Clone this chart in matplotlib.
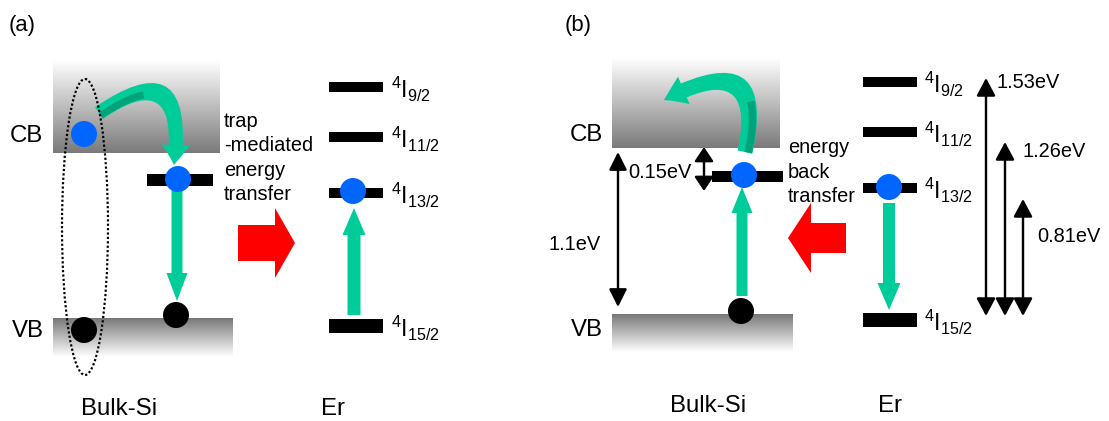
import numpy as np
import matplotlib
matplotlib.use("Agg")
import matplotlib.pyplot as plt
from matplotlib.patches import Rectangle, Circle, Ellipse, FancyArrow, FancyArrowPatch
from matplotlib.path import Path

# ---------------- data ----------------
panel_labels = ["(a)", "(b)"]
band_labels = ["CB", "VB"]
material_labels = ["Bulk-Si", "Er"]
er_level_j = ["9/2", "11/2", "13/2", "15/2"]          # 4I_J manifolds (top to bottom)
er_transition_eV = [1.53, 1.26, 0.81]                 # 4I_J -> 4I15/2
si_gap_eV = 1.1
trap_depth_eV = 0.15
process_a = ["trap", "-mediated", "energy", "transfer"]
process_b = ["energy", "back", "transfer"]

# ---------------- style / layout (pixels, 72 dpi) ----------------
W, H = 1109, 421
TEAL = "#00CC99"
TEAL_DARK = "#00A47A"
BLUE = "#0066FF"
FONT = "Liberation Sans"
plt.rcParams["font.family"] = [FONT, "DejaVu Sans"]
plt.rcParams["mathtext.fontset"] = "custom"
plt.rcParams["mathtext.rm"] = FONT
plt.rcParams["mathtext.it"] = FONT
plt.rcParams["mathtext.default"] = "regular"

fig = plt.figure(figsize=(W / 72, H / 72), dpi=72)
ax = fig.add_axes([0, 0, 1, 1])
ax.set_axis_off()


def grad_box(x0, x1, y0, y1, top, bottom):
    g = np.linspace(top, bottom, 200).reshape(-1, 1)
    ax.imshow(g, cmap="gray", vmin=0, vmax=1, extent=(x0, x1, y1, y0),
              origin="upper", aspect="auto", interpolation="bilinear", zorder=0)


def straight(x, y0, y1, color=TEAL, width=12, hw=23, hl=27):
    ax.add_patch(FancyArrow(x, y0, 0, y1 - y0, width=width, head_width=hw,
                            head_length=hl, length_includes_head=True,
                            color=color, lw=0, zorder=3))


def bez(A, C, B, t):
    A, C, B = map(np.asarray, (A, C, B))
    t = np.asarray(t)[:, None]
    return (1 - t) ** 2 * A + 2 * t * (1 - t) * C + t ** 2 * B


def curved(A, C, B, tw=14, hw=30, hl=20, shade=(0.0, 0.35), side=1):
    p = Path([A, C, B], [Path.MOVETO, Path.CURVE3, Path.CURVE3])
    ax.add_patch(FancyArrowPatch(path=p, arrowstyle=f"simple,head_length={hl},head_width={hw},tail_width={tw}",
                                 mutation_scale=1, color=TEAL, lw=0, zorder=3))
    # darker underside of the ribbon (3-D look)
    t = np.linspace(shade[0], shade[1], 40)
    pts = bez(A, C, B, t)
    d = np.gradient(pts, axis=0)
    n = np.stack([-d[:, 1], d[:, 0]], axis=1)
    n /= np.linalg.norm(n, axis=1)[:, None]
    off = pts + side * n * tw * 0.22
    ax.plot(off[:, 0], off[:, 1], color=TEAL_DARK, lw=tw * 0.5,
            solid_capstyle="butt", zorder=3.1)


def double(x, y0, y1, hl=14, hw=8):
    ax.add_patch(FancyArrowPatch((x, y0), (x, y1),
                                 arrowstyle=f"<|-|>,head_length={hl},head_width={hw}",
                                 mutation_scale=1, lw=2.4, color="black",
                                 shrinkA=0, shrinkB=0, zorder=3))


def electron(x, y, color):
    ax.add_patch(Circle((x, y), 13, color=color, lw=0, zorder=5))


def level_label(x, ylev, j):
    ax.text(x, ylev + 11, r"${}^{4}$I$_{%s}$" % j, fontsize=23, ha="left", va="baseline")


# ================= panel (a) =================
ax.text(9, 26, panel_labels[0], fontsize=22, va="center", ha="left")
grad_box(53, 220, 60, 153, 1.0, 0.48)
grad_box(53, 233, 318, 357, 0.47, 1.0)
ax.text(10, 142, band_labels[0], fontsize=24, va="baseline")
ax.text(12, 337, band_labels[1], fontsize=24, va="baseline")
ax.add_patch(Ellipse((85, 227), 46, 296, fill=False, ls=(0, (1, 1)), lw=2.2, zorder=4))
# trap level
ax.add_patch(Rectangle((147, 174), 66, 12, color="black", lw=0, zorder=2))
curved((99, 113), (188, 52), (174, 165), tw=14, hw=28, hl=20, shade=(0.0, 0.3), side=1)
straight(177, 190, 301, width=11, hw=21, hl=28)
electron(84, 134, BLUE)
electron(84, 330, "black")
electron(176, 315, "black")
electron(178, 179, BLUE)
for i, s in enumerate(process_a):
    ax.text(224, 127 + 24.3 * i, s, fontsize=20, va="baseline")
ax.add_patch(FancyArrow(238, 243, 57, 0, width=36, head_width=70, head_length=20,
                        length_includes_head=True, color="red", lw=0, zorder=3))
# Er levels
er_a_y = [87, 137, 193, 326]
er_a_h = [10, 10, 10, 14]
for j, y, h in zip(er_level_j, er_a_y, er_a_h):
    ax.add_patch(Rectangle((329, y - h / 2), 54, h, color="black", lw=0, zorder=2))
    level_label(391, y, j)
straight(354, 315, 208, width=13, hw=23, hl=27)
electron(353, 191, BLUE)
ax.text(119, 415, material_labels[0], fontsize=24, ha="center", va="baseline")
ax.text(333, 415, material_labels[1], fontsize=24, ha="center", va="baseline")

# ================= panel (b) =================
ax.text(565, 26, panel_labels[1], fontsize=22, va="center", ha="left")
grad_box(612, 780, 58, 148, 1.0, 0.48)
grad_box(612, 793, 314, 352, 0.47, 1.0)
ax.text(603, 141, band_labels[0], fontsize=24, va="baseline", ha="right")
ax.text(603, 336, band_labels[1], fontsize=24, va="baseline", ha="right")
ax.add_patch(Rectangle((712, 171), 71, 11, color="black", lw=0, zorder=2))
curved((745, 152), (768, 45), (664, 100), tw=15, hw=30, hl=22, shade=(0.0, 0.3), side=1)
straight(742, 296, 187, width=11, hw=21, hl=26)
electron(744, 175, BLUE)
electron(741, 311, "black")
double(618, 152, 307, hl=15, hw=7.5)
ax.text(548, 250, f"{si_gap_eV}eV", fontsize=20, va="baseline")
double(704, 147, 191, hl=12, hw=8)
ax.text(628, 178, f"{trap_depth_eV}eV", fontsize=20, va="baseline")
for i, s in enumerate(process_b):
    ax.text(788, 153 + 24.5 * i, s, fontsize=20, va="baseline")
ax.add_patch(FancyArrow(846, 238, -58, 0, width=30, head_width=70, head_length=23,
                        length_includes_head=True, color="red", lw=0, zorder=3))
er_b_y = [82, 132, 188, 320]
er_b_h = [10, 10, 10, 14]
for j, y, h in zip(er_level_j, er_b_y, er_b_h):
    ax.add_patch(Rectangle((863, y - h / 2), 54, h, color="black", lw=0, zorder=2))
    level_label(924, y, j)
straight(889, 203, 310, width=12, hw=23, hl=27)
electron(889, 187, BLUE)
# transition energies
trans_x = [986, 1005, 1023]
trans_top = [78, 142, 199]
trans_lab = [(996, 88), (1022, 157), (1037, 242)]
for e, x, yt, (lx, ly) in zip(er_transition_eV, trans_x, trans_top, trans_lab):
    double(x, yt, 316, hl=15, hw=8)
    ax.text(lx, ly, f"{e}eV", fontsize=20, va="baseline")
ax.text(708, 412, material_labels[0], fontsize=24, ha="center", va="baseline")
ax.text(890, 412, material_labels[1], fontsize=24, ha="center", va="baseline")

ax.set_xlim(0, W)
ax.set_ylim(H, 0)
fig.savefig("out.png", dpi=72, facecolor="white")
